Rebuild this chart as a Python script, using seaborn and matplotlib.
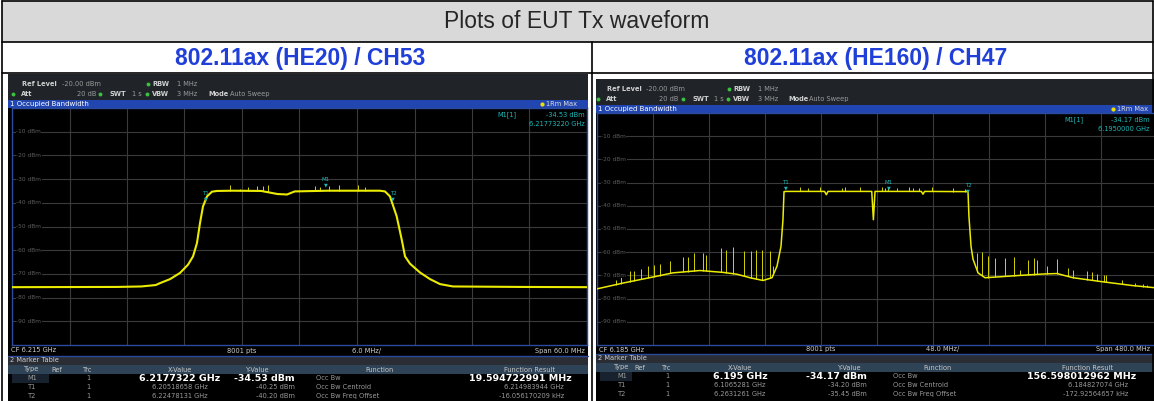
import numpy as np
import pandas as pd
import seaborn as sns
import matplotlib.pyplot as plt
from matplotlib.patches import Rectangle

W, H = 1154, 401

title = 'Plots of EUT Tx waveform'
case_labels = ['802.11ax (HE20) / CH53', '802.11ax (HE160) / CH47']

# HE20 / CH53 trace (GHz, dBm)
he20_freq = [6.185, 6.1960, 6.1985, 6.2000, 6.20044, 6.20149, 6.20253, 6.20337, 6.20389, 6.2043,
             6.20462, 6.20493, 6.20535, 6.20587, 6.2064, 6.2080, 6.2110, 6.2127, 6.2137, 6.2145,
             6.2180, 6.2234, 6.22392, 6.22444, 6.22479, 6.22514, 6.22567, 6.22601, 6.22653,
             6.22757, 6.22862, 6.22966, 6.23102, 6.2380, 6.245]
he20_level = [-75.6, -75.5, -75.3, -74.7, -73.9, -72.2, -69.6, -66.1, -62.6, -57.0,
              -48.5, -41.5, -37.3, -35.3, -35.0, -34.9, -35.0, -36.3, -36.5, -35.2,
              -34.9, -34.9, -35.2, -37.3, -41.5, -45.7, -55.6, -62.6, -65.7,
              -69.4, -72.2, -74.3, -75.3, -75.5, -75.6]
he20_spike_freq = [6.20775, 6.20879, 6.20963, 6.21057, 6.21119, 6.21171, 6.21662, 6.21714,
                   6.21808, 6.21912, 6.22111, 6.22184]
he20_spike_top = [-32.5, -34.0, -33.5, -32.8, -33.0, -32.6, -33.0, -33.5, -33.0, -32.5, -32.5, -33.5]

# HE160 / CH47 trace (GHz, dBm)
he160_freq = [5.945, 5.9673, 5.9900, 6.0101, 6.0333, 6.0530, 6.0650, 6.0761, 6.0873, 6.0950,
              6.0993, 6.1027, 6.1044, 6.1053, 6.1070, 6.1400, 6.1416, 6.1430, 6.1805, 6.1819,
              6.1833, 6.2230, 6.2244, 6.2258, 6.2630, 6.2638, 6.2656, 6.2673, 6.2716, 6.2776,
              6.2904, 6.3076, 6.3273, 6.3393, 6.3530, 6.3761, 6.4044, 6.4250]
he160_level = [-75.8, -73.3, -71.0, -68.9, -67.9, -68.7, -69.5, -71.0, -72.2, -71.0,
               -66.0, -57.5, -46.0, -33.9, -33.8, -33.8, -35.2, -33.8, -33.8, -46.0,
               -33.8, -33.8, -35.0, -33.8, -33.9, -44.5, -57.5, -63.0, -68.9, -71.0,
               -70.6, -70.0, -69.4, -69.2, -71.0, -72.6, -74.4, -75.4]
he160_spike_freq = [5.9613, 5.9653, 5.9733, 5.9768, 5.9825, 5.9885, 5.9941, 5.9990, 6.0076, 6.0190,
                    6.0227, 6.0284, 6.0361, 6.0382, 6.0513, 6.0556, 6.0618, 6.0710, 6.0767, 6.0810,
                    6.0862, 6.0933, 6.0961,
                    6.1190, 6.1258, 6.1361, 6.1550, 6.1576, 6.1704, 6.1893, 6.1919, 6.1944, 6.2021,
                    6.2124, 6.2158, 6.2210, 6.2321, 6.2501, 6.2604,
                    6.2704, 6.2752, 6.2803, 6.2861, 6.2946, 6.3026, 6.3075, 6.3146, 6.3195, 6.3223,
                    6.3304, 6.3389, 6.3489, 6.3532, 6.3646, 6.3689, 6.3732, 6.3794, 6.3817, 6.3954,
                    6.4060, 6.4131, 6.4160]
he160_spike_top = [-71.9, -70.5, -68.3, -67.9, -67.3, -66.1, -65.7, -65.1, -64.0, -62.2,
                   -62.2, -60.4, -60.4, -61.1, -58.2, -58.9, -57.9, -59.4, -59.4, -58.9,
                   -58.9, -59.4, -66.1,
                   -32.0, -32.5, -32.0, -32.3, -31.8, -32.0, -32.0, -32.5, -32.0, -32.5,
                   -32.0, -32.3, -32.5, -31.8, -32.5, -32.8,
                   -60.4, -60.1, -61.8, -62.5, -62.5, -62.2, -67.6, -63.2, -62.5, -63.2,
                   -66.1, -62.9, -66.8, -67.6, -68.3, -68.7, -69.3, -69.7, -69.9, -71.9,
                   -73.3, -73.6, -74.1]

marker_names = ['M1', 'T1', 'T2']
he20_marker_freq = [6.2177322, 6.20518658, 6.22478131]
he20_marker_level = [-34.53, -40.25, -40.20]
he160_marker_freq = [6.195, 6.1065281, 6.2631261]
he160_marker_level = [-34.17, -34.20, -35.45]

he20_xvals = ['6.2177322 GHz', '6.20518658 GHz', '6.22478131 GHz']
he20_yvals = ['-34.53 dBm', '-40.25 dBm', '-40.20 dBm']
he20_results = ['19.594722991 MHz', '6.214983944 GHz', '-16.056170209 kHz']
he160_xvals = ['6.195 GHz', '6.1065281 GHz', '6.2631261 GHz']
he160_yvals = ['-34.17 dBm', '-34.20 dBm', '-35.45 dBm']
he160_results = ['156.598012962 MHz', '6.184827074 GHz', '-172.92564657 kHz']
functions = ['Occ Bw', 'Occ Bw Centroid', 'Occ Bw Freq Offset']

he20_status = ['CF 6.215 GHz', '8001 pts', '6.0 MHz/', 'Span 60.0 MHz']
he160_status = ['CF 6.185 GHz', '8001 pts', '48.0 MHz/', 'Span 480.0 MHz']
he20_readout = ['-34.53 dBm', '6.21773220 GHz']
he160_readout = ['-34.17 dBm', '6.1950000 GHz']
level_ticks = [-10, -20, -30, -40, -50, -60, -70, -80, -90]

sns.set_style('white')
plt.rcParams['font.family'] = ['DejaVu Sans']

YEL = '#ecec00'
CYAN = '#1fb8b8'
LBL = '#d0d0d0'
VAL = '#9a9a9a'

fig = plt.figure(figsize=(W / 100, H / 100), dpi=100)
bg = fig.add_axes([0, 0, 1, 1])
bg.set_xlim(0, W)
bg.set_ylim(H, 0)
bg.axis('off')


def px_axes(x0, y0, x1, y1):
    return fig.add_axes([x0 / W, 1 - y1 / H, (x1 - x0) / W, (y1 - y0) / H])


def rect(x0, y0, x1, y1, color, z=1):
    bg.add_patch(Rectangle((x0, y0), x1 - x0, y1 - y0, color=color, lw=0, zorder=z))


def txt(x, y, s, size=4.8, color=LBL, ha='left', weight='normal', z=5, on=None):
    target = on if on is not None else bg
    target.text(x, y, s, fontsize=size, color=color, ha=ha, va='center', fontweight=weight,
                zorder=z, transform=bg.transData)


# table frame
rect(2, 1, 1153, 42, '#d9d9d9')
for yy in [1, 42, 73]:
    bg.plot([2, 1153], [yy, yy], color='black', lw=1.2, zorder=6)
for xx in [2, 1153]:
    bg.plot([xx, xx], [1, 401], color='black', lw=1.2, zorder=6)
bg.plot([592, 592], [42, 401], color='black', lw=1.2, zorder=6)
bg.text(577, 22, title, fontsize=16.5, family='Liberation Sans', ha='center', va='center')
for cx, lab in zip([300, 876], case_labels):
    bg.text(cx, 58, lab, fontsize=16.5, family='Liberation Sans', fontweight='bold',
            color='#1f3fd8', ha='center', va='center')


def panel(x0, x1, pl, pr, y_hdr, y_blue, y_top, y_bot, y_mt, y_ch,
          freq, level, sp_f, sp_t, mk_f, mk_l, status, readout, xv, yv, res, cols, lw):
    s = (pr - pl) / 575
    right_edge = min(x1, W - 1) - 3
    rect(x0, y_hdr, x1, y_blue, '#202429')
    rect(x0, y_blue, x1, y_blue + 8, '#2146b2')
    rect(x0, y_blue + 8, x1, 401, 'black')
    r1, r2 = y_hdr + 10, y_hdr + 20
    # header lines
    txt(pl + 10 * s, r1, 'Ref Level', weight='bold')
    txt(pl + 50 * s, r1, '-20.00 dBm', color=VAL)
    for dx, r in [(136, r1), (1, r2), (88, r2), (135, r2)]:
        bg.plot(pl + dx * s, r, 'o', ms=1.8, color='#3cc040', zorder=5)
    txt(pl + 140 * s, r1, 'RBW', weight='bold')
    txt(pl + 165 * s, r1, '1 MHz', color=VAL)
    txt(pl + 9 * s, r2, 'Att', weight='bold')
    txt(pl + 84 * s, r2, '20 dB', color=VAL, ha='right')
    txt(pl + 98 * s, r2, 'SWT', weight='bold')
    txt(pl + 120 * s, r2, '1 s', color=VAL)
    txt(pl + 140 * s, r2, 'VBW', weight='bold')
    txt(pl + 165 * s, r2, '3 MHz', color=VAL)
    txt(pl + 196 * s, r2, 'Mode', weight='bold')
    txt(pl + 218 * s, r2, 'Auto Sweep', color=VAL)
    txt(x0 + 2, y_blue + 4, '1 Occupied Bandwidth', color='white', size=5)
    bg.plot(pl + 530 * s, y_blue + 4, 'o', ms=2, color='#f0e000', zorder=5)
    txt(pl + 534 * s, y_blue + 4, '1Rm Max', color='#dddddd')

    # spectrum
    ax = px_axes(pl, y_top, pr, y_bot)
    ax.set_facecolor('black')
    f0, f1 = freq[0], freq[-1]
    sns.lineplot(x=freq, y=level, ax=ax, color=YEL, linewidth=lw, zorder=3)
    base = np.interp(sp_f, freq, level)
    ax.vlines(sp_f, base, sp_t, colors='#d4d400', lw=0.7, zorder=2)
    ax.set_xlim(f0, f1)
    ax.set_ylim(-100, 0)
    ax.set_xticks(np.linspace(f0, f1, 11))
    ax.set_yticks(level_ticks)
    ax.grid(True, color='#3a3a3a', lw=0.8)
    ax.tick_params(length=0, labelbottom=False, labelleft=False)
    ax.set_xlabel('')
    ax.set_ylabel('')
    for sp in ax.spines.values():
        sp.set_color('#2c4a9c')
        sp.set_linewidth(1.0)
    for lv in level_ticks:
        ax.annotate(f'{lv} dBm', xy=(0, lv), xycoords=('axes fraction', 'data'),
                    xytext=(3, 0), textcoords='offset points', va='center', fontsize=4.2,
                    color='#5c5c5c', bbox=dict(fc='black', ec='none', pad=0.3))
    for name, f, l in zip(marker_names, mk_f, mk_l):
        ax.annotate('▼', xy=(f, l), xytext=(0, 1.5), textcoords='offset points',
                    ha='center', va='bottom', fontsize=3.5, color=CYAN, zorder=6)
        ax.annotate(name, xy=(f, l), xytext=(0, 5.5), textcoords='offset points',
                    ha='center', va='bottom', fontsize=4, color=CYAN, zorder=6)
    # marker readout in the upper right of the diagram
    ro = min(pl + 573 * s, right_edge)
    txt(ro - 88 * s, y_top + 7, 'M1[1]', color=CYAN, z=9, on=ax)
    txt(ro, y_top + 7, readout[0], color=CYAN, ha='right', z=9, on=ax)
    txt(ro, y_top + 16, readout[1], color=CYAN, ha='right', z=9, on=ax)

    # status bar
    ys = (y_bot + y_mt) / 2
    txt(x0 + 3, ys, status[0])
    txt(pl + 215 * s, ys, status[1])
    txt(pl + 355 * s, ys, status[2], ha='center')
    txt(right_edge, ys, status[3], ha='right')
    bg.plot([x0, x1], [y_mt - 0.5, y_mt - 0.5], color='#2c4a9c', lw=1, zorder=4)

    # marker table
    rect(x0, y_mt, x1, y_ch, '#2a2e34', z=2)
    rect(x0, y_ch, x1, y_ch + 9, '#2f4356', z=2)
    txt(x0 + 2, (y_mt + y_ch) / 2, '2 Marker Table', color='#cccccc')
    yh = y_ch + 4.5
    c_type, c_ref, c_trc, c_x, c_y, c_yr, c_fn, c_fl, c_res, c_rr = cols
    for cx, lab in [(c_type, 'Type'), (c_ref, 'Ref'), (c_trc, 'Trc'), (c_x, 'X-Value'),
                    (c_y, 'Y-Value'), (c_fn, 'Function'), (c_res, 'Function Result')]:
        txt(cx, yh, lab, ha='center', color='#c8c8c8')
    rect(x0 + 4, y_ch + 9, c_ref - 8, y_ch + 18, '#17222e', z=2)
    for i in range(3):
        yr = y_ch + 13.5 + i * 8.7
        big = (i == 0)
        sz = 6.8 if big else 4.8
        wt = 'bold' if big else 'normal'
        col = 'white' if big else VAL
        txt(c_type, yr, marker_names[i], ha='center', color=VAL)
        txt(c_trc, yr, '1', ha='center', color=VAL)
        txt(c_x, yr, xv[i], ha='center', size=sz, weight=wt, color=col)
        txt(c_yr, yr, yv[i], ha='right', size=sz, weight=wt, color=col)
        txt(c_fl, yr, functions[i], color=VAL)
        txt(c_rr + (8 if big else 0), yr, res[i], ha='right', size=sz, weight=wt, color=col)


panel(8, 588, 12, 587, 74, 100, 108, 345, 356, 365,
      he20_freq, he20_level, he20_spike_freq, he20_spike_top,
      he20_marker_freq, he20_marker_level, he20_status, he20_readout,
      he20_xvals, he20_yvals, he20_results,
      (32, 57, 88, 180, 258, 295, 379, 316, 530, 564), 1.5)
panel(596, 1160, 597, 1157, 79, 105, 113, 345, 354, 363,
      he160_freq, he160_level, he160_spike_freq, he160_spike_top,
      he160_marker_freq, he160_marker_level, he160_status, he160_readout,
      he160_xvals, he160_yvals, he160_results,
      (622, 640, 667, 740, 850, 867, 937, 893, 1087, 1128), 1.1)

fig.savefig('out.png', dpi=100)
